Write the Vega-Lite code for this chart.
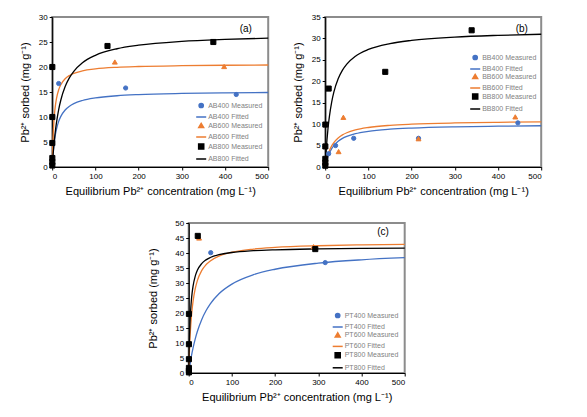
{
  "$schema": "https://vega.github.io/schema/vega-lite/v6.json",
  "padding": {"left": 18, "top": 12, "right": 4, "bottom": 4},
  "config": {
    "font": "Liberation Sans",
    "view": {"stroke": "#8c8c8c", "strokeWidth": 2},
    "axis": {"grid": false, "domainColor": "#000000", "domainWidth": 1.2, "tickColor": "#000000", "tickSize": 3, "labelFont": "Liberation Sans", "labelFontSize": 8, "labelColor": "#000000", "titleFont": "Liberation Sans", "titleFontSize": 11, "titleFontWeight": "normal", "titleColor": "#000000", "labelPadding": 2},
    "axisX": {"titlePadding": 5},
    "axisY": {"titlePadding": 8},
    "legend": {"labelFont": "Liberation Sans", "labelFontSize": 7, "labelColor": "#7f7f7f", "rowPadding": 0, "padding": 0, "labelOffset": 1, "symbolOpacity": 1}
  },
  "datasets": {
    "a_fit": [
      {"series": "AB400 Fitted", "C": 0, "q": 0}, {"series": "AB400 Fitted", "C": 1, "q": 1.38}, {"series": "AB400 Fitted", "C": 2, "q": 2.53}, {"series": "AB400 Fitted", "C": 4, "q": 4.34}, {"series": "AB400 Fitted", "C": 6, "q": 5.7}, {"series": "AB400 Fitted", "C": 8, "q": 6.76}, {"series": "AB400 Fitted", "C": 10, "q": 7.6}, {"series": "AB400 Fitted", "C": 15, "q": 9.12}, {"series": "AB400 Fitted", "C": 20, "q": 10.13}, {"series": "AB400 Fitted", "C": 30, "q": 11.4}, {"series": "AB400 Fitted", "C": 40, "q": 12.16}, {"series": "AB400 Fitted", "C": 50, "q": 12.67}, {"series": "AB400 Fitted", "C": 70, "q": 13.3}, {"series": "AB400 Fitted", "C": 100, "q": 13.82}, {"series": "AB400 Fitted", "C": 150, "q": 14.25}, {"series": "AB400 Fitted", "C": 200, "q": 14.48}, {"series": "AB400 Fitted", "C": 300, "q": 14.71}, {"series": "AB400 Fitted", "C": 400, "q": 14.83}, {"series": "AB400 Fitted", "C": 500, "q": 14.9},
      {"series": "AB600 Fitted", "C": 0, "q": 0}, {"series": "AB600 Fitted", "C": 1, "q": 3.43}, {"series": "AB600 Fitted", "C": 2, "q": 5.89}, {"series": "AB600 Fitted", "C": 4, "q": 9.16}, {"series": "AB600 Fitted", "C": 6, "q": 11.24}, {"series": "AB600 Fitted", "C": 8, "q": 12.68}, {"series": "AB600 Fitted", "C": 10, "q": 13.73}, {"series": "AB600 Fitted", "C": 15, "q": 15.45}, {"series": "AB600 Fitted", "C": 20, "q": 16.48}, {"series": "AB600 Fitted", "C": 30, "q": 17.66}, {"series": "AB600 Fitted", "C": 40, "q": 18.31}, {"series": "AB600 Fitted", "C": 50, "q": 18.73}, {"series": "AB600 Fitted", "C": 70, "q": 19.23}, {"series": "AB600 Fitted", "C": 100, "q": 19.62}, {"series": "AB600 Fitted", "C": 150, "q": 19.94}, {"series": "AB600 Fitted", "C": 200, "q": 20.1}, {"series": "AB600 Fitted", "C": 300, "q": 20.26}, {"series": "AB600 Fitted", "C": 400, "q": 20.35}, {"series": "AB600 Fitted", "C": 500, "q": 20.4},
      {"series": "AB800 Fitted", "C": 0, "q": 0}, {"series": "AB800 Fitted", "C": 1, "q": 1.28}, {"series": "AB800 Fitted", "C": 2, "q": 2.44}, {"series": "AB800 Fitted", "C": 4, "q": 4.47}, {"series": "AB800 Fitted", "C": 6, "q": 6.18}, {"series": "AB800 Fitted", "C": 8, "q": 7.66}, {"series": "AB800 Fitted", "C": 10, "q": 8.93}, {"series": "AB800 Fitted", "C": 15, "q": 11.49}, {"series": "AB800 Fitted", "C": 20, "q": 13.4}, {"series": "AB800 Fitted", "C": 30, "q": 16.08}, {"series": "AB800 Fitted", "C": 40, "q": 17.87}, {"series": "AB800 Fitted", "C": 50, "q": 19.14}, {"series": "AB800 Fitted", "C": 70, "q": 20.84}, {"series": "AB800 Fitted", "C": 100, "q": 22.33}, {"series": "AB800 Fitted", "C": 150, "q": 23.65}, {"series": "AB800 Fitted", "C": 200, "q": 24.36}, {"series": "AB800 Fitted", "C": 300, "q": 25.13}, {"series": "AB800 Fitted", "C": 400, "q": 25.52}, {"series": "AB800 Fitted", "C": 500, "q": 25.77}
    ],
    "a_pts": [
      {"series": "AB400 Measured", "C": 15, "q": 16.7}, {"series": "AB400 Measured", "C": 170, "q": 15.8}, {"series": "AB400 Measured", "C": 426, "q": 14.5},
      {"series": "AB600 Measured", "C": 145, "q": 21.0}, {"series": "AB600 Measured", "C": 398, "q": 20.1},
      {"series": "AB800 Measured", "C": 0.3, "q": 20.0}, {"series": "AB800 Measured", "C": 0.3, "q": 10.0}, {"series": "AB800 Measured", "C": 0.3, "q": 4.8}, {"series": "AB800 Measured", "C": 0.3, "q": 1.8}, {"series": "AB800 Measured", "C": 0.3, "q": 1.0}, {"series": "AB800 Measured", "C": 0.3, "q": 0.3}, {"series": "AB800 Measured", "C": 128, "q": 24.2}, {"series": "AB800 Measured", "C": 373, "q": 25.0}
    ],
    "b_fit": [
      {"series": "BB400 Fitted", "C": 0, "q": 0}, {"series": "BB400 Fitted", "C": 1, "q": 0.48}, {"series": "BB400 Fitted", "C": 2, "q": 0.91}, {"series": "BB400 Fitted", "C": 4, "q": 1.67}, {"series": "BB400 Fitted", "C": 6, "q": 2.31}, {"series": "BB400 Fitted", "C": 8, "q": 2.86}, {"series": "BB400 Fitted", "C": 10, "q": 3.33}, {"series": "BB400 Fitted", "C": 15, "q": 4.29}, {"series": "BB400 Fitted", "C": 20, "q": 5.0}, {"series": "BB400 Fitted", "C": 30, "q": 6.0}, {"series": "BB400 Fitted", "C": 40, "q": 6.67}, {"series": "BB400 Fitted", "C": 50, "q": 7.14}, {"series": "BB400 Fitted", "C": 70, "q": 7.78}, {"series": "BB400 Fitted", "C": 100, "q": 8.33}, {"series": "BB400 Fitted", "C": 150, "q": 8.82}, {"series": "BB400 Fitted", "C": 200, "q": 9.09}, {"series": "BB400 Fitted", "C": 300, "q": 9.38}, {"series": "BB400 Fitted", "C": 400, "q": 9.52}, {"series": "BB400 Fitted", "C": 500, "q": 9.62},
      {"series": "BB600 Fitted", "C": 0, "q": 0}, {"series": "BB600 Fitted", "C": 1, "q": 0.57}, {"series": "BB600 Fitted", "C": 2, "q": 1.08}, {"series": "BB600 Fitted", "C": 4, "q": 1.97}, {"series": "BB600 Fitted", "C": 6, "q": 2.7}, {"series": "BB600 Fitted", "C": 8, "q": 3.33}, {"series": "BB600 Fitted", "C": 10, "q": 3.87}, {"series": "BB600 Fitted", "C": 15, "q": 4.93}, {"series": "BB600 Fitted", "C": 20, "q": 5.71}, {"series": "BB600 Fitted", "C": 30, "q": 6.79}, {"series": "BB600 Fitted", "C": 40, "q": 7.49}, {"series": "BB600 Fitted", "C": 50, "q": 7.99}, {"series": "BB600 Fitted", "C": 70, "q": 8.65}, {"series": "BB600 Fitted", "C": 100, "q": 9.22}, {"series": "BB600 Fitted", "C": 150, "q": 9.72}, {"series": "BB600 Fitted", "C": 200, "q": 9.99}, {"series": "BB600 Fitted", "C": 300, "q": 10.28}, {"series": "BB600 Fitted", "C": 400, "q": 10.43}, {"series": "BB600 Fitted", "C": 500, "q": 10.52},
      {"series": "BB800 Fitted", "C": 0, "q": 0}, {"series": "BB800 Fitted", "C": 1, "q": 1.81}, {"series": "BB800 Fitted", "C": 2, "q": 3.43}, {"series": "BB800 Fitted", "C": 4, "q": 6.19}, {"series": "BB800 Fitted", "C": 6, "q": 8.47}, {"series": "BB800 Fitted", "C": 8, "q": 10.38}, {"series": "BB800 Fitted", "C": 10, "q": 12.0}, {"series": "BB800 Fitted", "C": 15, "q": 15.16}, {"series": "BB800 Fitted", "C": 20, "q": 17.45}, {"series": "BB800 Fitted", "C": 30, "q": 20.57}, {"series": "BB800 Fitted", "C": 40, "q": 22.59}, {"series": "BB800 Fitted", "C": 50, "q": 24.0}, {"series": "BB800 Fitted", "C": 70, "q": 25.85}, {"series": "BB800 Fitted", "C": 100, "q": 27.43}, {"series": "BB800 Fitted", "C": 150, "q": 28.8}, {"series": "BB800 Fitted", "C": 200, "q": 29.54}, {"series": "BB800 Fitted", "C": 300, "q": 30.32}, {"series": "BB800 Fitted", "C": 400, "q": 30.72}, {"series": "BB800 Fitted", "C": 500, "q": 30.97}
    ],
    "b_pts": [
      {"series": "BB400 Measured", "C": 8, "q": 3.1}, {"series": "BB400 Measured", "C": 24, "q": 5.0}, {"series": "BB400 Measured", "C": 66, "q": 6.7}, {"series": "BB400 Measured", "C": 216, "q": 6.7}, {"series": "BB400 Measured", "C": 446, "q": 10.3},
      {"series": "BB600 Measured", "C": 31, "q": 3.6}, {"series": "BB600 Measured", "C": 42, "q": 11.6}, {"series": "BB600 Measured", "C": 216, "q": 6.6}, {"series": "BB600 Measured", "C": 440, "q": 11.7},
      {"series": "BB800 Measured", "C": 0.3, "q": 9.9}, {"series": "BB800 Measured", "C": 0.3, "q": 4.8}, {"series": "BB800 Measured", "C": 0.3, "q": 1.9}, {"series": "BB800 Measured", "C": 0.3, "q": 1.0}, {"series": "BB800 Measured", "C": 0.3, "q": 0.3}, {"series": "BB800 Measured", "C": 8, "q": 18.3}, {"series": "BB800 Measured", "C": 139, "q": 22.2}, {"series": "BB800 Measured", "C": 339, "q": 31.9}
    ],
    "c_fit": [
      {"series": "PT400 Fitted", "C": 0, "q": 0}, {"series": "PT400 Fitted", "C": 1, "q": 1.01}, {"series": "PT400 Fitted", "C": 2, "q": 1.98}, {"series": "PT400 Fitted", "C": 4, "q": 3.77}, {"series": "PT400 Fitted", "C": 6, "q": 5.41}, {"series": "PT400 Fitted", "C": 8, "q": 6.92}, {"series": "PT400 Fitted", "C": 10, "q": 8.3}, {"series": "PT400 Fitted", "C": 15, "q": 11.32}, {"series": "PT400 Fitted", "C": 20, "q": 13.83}, {"series": "PT400 Fitted", "C": 30, "q": 17.79}, {"series": "PT400 Fitted", "C": 40, "q": 20.75}, {"series": "PT400 Fitted", "C": 50, "q": 23.06}, {"series": "PT400 Fitted", "C": 70, "q": 26.41}, {"series": "PT400 Fitted", "C": 100, "q": 29.64}, {"series": "PT400 Fitted", "C": 150, "q": 32.76}, {"series": "PT400 Fitted", "C": 200, "q": 34.58}, {"series": "PT400 Fitted", "C": 300, "q": 36.62}, {"series": "PT400 Fitted", "C": 400, "q": 37.73}, {"series": "PT400 Fitted", "C": 500, "q": 38.43},
      {"series": "PT600 Fitted", "C": 0, "q": 0}, {"series": "PT600 Fitted", "C": 1, "q": 4.67}, {"series": "PT600 Fitted", "C": 2, "q": 8.44}, {"series": "PT600 Fitted", "C": 4, "q": 14.14}, {"series": "PT600 Fitted", "C": 6, "q": 18.25}, {"series": "PT600 Fitted", "C": 8, "q": 21.35}, {"series": "PT600 Fitted", "C": 10, "q": 23.78}, {"series": "PT600 Fitted", "C": 15, "q": 28.03}, {"series": "PT600 Fitted", "C": 20, "q": 30.78}, {"series": "PT600 Fitted", "C": 30, "q": 34.12}, {"series": "PT600 Fitted", "C": 40, "q": 36.08}, {"series": "PT600 Fitted", "C": 50, "q": 37.37}, {"series": "PT600 Fitted", "C": 70, "q": 38.96}, {"series": "PT600 Fitted", "C": 100, "q": 40.25}, {"series": "PT600 Fitted", "C": 150, "q": 41.31}, {"series": "PT600 Fitted", "C": 200, "q": 41.86}, {"series": "PT600 Fitted", "C": 300, "q": 42.42}, {"series": "PT600 Fitted", "C": 400, "q": 42.71}, {"series": "PT600 Fitted", "C": 500, "q": 42.89},
      {"series": "PT800 Fitted", "C": 0, "q": 0}, {"series": "PT800 Fitted", "C": 1, "q": 7.57}, {"series": "PT800 Fitted", "C": 2, "q": 12.83}, {"series": "PT800 Fitted", "C": 4, "q": 19.66}, {"series": "PT800 Fitted", "C": 6, "q": 23.9}, {"series": "PT800 Fitted", "C": 8, "q": 26.78}, {"series": "PT800 Fitted", "C": 10, "q": 28.88}, {"series": "PT800 Fitted", "C": 15, "q": 32.23}, {"series": "PT800 Fitted", "C": 20, "q": 34.22}, {"series": "PT800 Fitted", "C": 30, "q": 36.47}, {"series": "PT800 Fitted", "C": 40, "q": 37.71}, {"series": "PT800 Fitted", "C": 50, "q": 38.5}, {"series": "PT800 Fitted", "C": 70, "q": 39.44}, {"series": "PT800 Fitted", "C": 100, "q": 40.17}, {"series": "PT800 Fitted", "C": 150, "q": 40.76}, {"series": "PT800 Fitted", "C": 200, "q": 41.07}, {"series": "PT800 Fitted", "C": 300, "q": 41.37}, {"series": "PT800 Fitted", "C": 400, "q": 41.53}, {"series": "PT800 Fitted", "C": 500, "q": 41.62}
    ],
    "c_pts": [
      {"series": "PT400 Measured", "C": 51, "q": 40.1}, {"series": "PT400 Measured", "C": 316, "q": 36.8},
      {"series": "PT600 Measured", "C": 24, "q": 45.0}, {"series": "PT600 Measured", "C": 289, "q": 42.1},
      {"series": "PT800 Measured", "C": 0.5, "q": 19.7}, {"series": "PT800 Measured", "C": 0.5, "q": 9.6}, {"series": "PT800 Measured", "C": 0.5, "q": 4.6}, {"series": "PT800 Measured", "C": 0.5, "q": 1.7}, {"series": "PT800 Measured", "C": 0.5, "q": 0.8}, {"series": "PT800 Measured", "C": 0.5, "q": 0.2}, {"series": "PT800 Measured", "C": 21, "q": 45.7}, {"series": "PT800 Measured", "C": 293, "q": 41.3}
    ],
    "labels": [
      {"panel": "a", "C": 448, "q": 27.6, "label": "(a)"},
      {"panel": "b", "C": 455, "q": 32.3, "label": "(b)"},
      {"panel": "c", "C": 450, "q": 47.0, "label": "(c)"}
    ]
  },
  "resolve": {"scale": {"color": "independent", "fill": "independent", "stroke": "independent", "shape": "independent", "size": "independent"}, "legend": {"color": "independent", "fill": "independent", "stroke": "independent", "shape": "independent", "size": "independent"}},
  "center": true,
  "spacing": 21,
  "vconcat": [
    {
      "spacing": 19,
      "resolve": {"scale": {"color": "independent", "fill": "independent", "stroke": "independent", "shape": "independent", "size": "independent"}, "legend": {"color": "independent", "fill": "independent", "stroke": "independent", "shape": "independent", "size": "independent"}},
      "hconcat": [
        {
          "width": 216, "height": 150,
          "encoding": {
            "x": {"field": "C", "type": "quantitative", "scale": {"domain": [0, 500], "nice": false}, "axis": {"values": [0, 100, 200, 300, 400, 500], "title": "Equilibrium Pb²⁺ concentration (mg L⁻¹)"}},
            "y": {"field": "q", "type": "quantitative", "scale": {"domain": [0, 30], "nice": false}, "axis": {"values": [0, 5, 10, 15, 20, 25, 30], "title": "Pb²⁺ sorbed (mg g⁻¹)"}}
          },
          "layer": [
            {"data": {"name": "a_fit"}, "mark": {"type": "line", "interpolate": "monotone", "strokeWidth": 1.3},
             "encoding": {"color": {"field": "series", "type": "nominal", "legend": null, "scale": {"domain": ["AB400 Fitted", "AB600 Fitted", "AB800 Fitted"], "range": ["#4472C4", "#ED7D31", "#000000"]}}}},
            {"data": {"name": "a_pts"}, "mark": {"type": "point", "filled": true, "opacity": 1, "strokeWidth": 1},
             "encoding": {
               "fill": {"field": "series", "type": "nominal", "scale": {"domain": ["AB400 Measured", "AB400 Fitted", "AB600 Measured", "AB600 Fitted", "AB800 Measured", "AB800 Fitted"], "range": ["#4472C4", "#4472C4", "#ED7D31", "#ED7D31", "#000000", "#000000"]}, "legend": {"title": null, "orient": "none", "legendX": 143, "legendY": 85, "rowPadding": 0}},
               "stroke": {"field": "series", "type": "nominal", "scale": {"domain": ["AB400 Measured", "AB400 Fitted", "AB600 Measured", "AB600 Fitted", "AB800 Measured", "AB800 Fitted"], "range": ["#4472C4", "#4472C4", "#ED7D31", "#ED7D31", "#000000", "#000000"]}, "legend": {"title": null, "orient": "none", "legendX": 143, "legendY": 85, "rowPadding": 0}},
               "shape": {"field": "series", "type": "nominal", "scale": {"domain": ["AB400 Measured", "AB400 Fitted", "AB600 Measured", "AB600 Fitted", "AB800 Measured", "AB800 Fitted"], "range": ["circle", "stroke", "triangle-up", "stroke", "square", "stroke"]}, "legend": {"title": null, "orient": "none", "legendX": 143, "legendY": 85, "rowPadding": 0}},
               "size": {"field": "series", "type": "nominal", "scale": {"type": "ordinal", "domain": ["AB400 Measured", "AB400 Fitted", "AB600 Measured", "AB600 Fitted", "AB800 Measured", "AB800 Fitted"], "range": [18, 100, 24, 100, 26, 100]}, "legend": {"title": null, "orient": "none", "legendX": 143, "legendY": 85, "rowPadding": 0}}
             }},
            {"data": {"name": "labels"}, "transform": [{"filter": "datum.panel == 'a'"}], "mark": {"type": "text", "fontSize": 10, "font": "Liberation Sans", "color": "#000000"}, "encoding": {"text": {"field": "label"}}}
          ]
        },
        {
          "width": 216, "height": 150,
          "encoding": {
            "x": {"field": "C", "type": "quantitative", "scale": {"domain": [0, 500], "nice": false}, "axis": {"values": [0, 100, 200, 300, 400, 500], "title": "Equilibrium Pb²⁺ concentration (mg L⁻¹)"}},
            "y": {"field": "q", "type": "quantitative", "scale": {"domain": [0, 35], "nice": false}, "axis": {"values": [0, 5, 10, 15, 20, 25, 30, 35], "title": "Pb²⁺ sorbed (mg g⁻¹)"}}
          },
          "layer": [
            {"data": {"name": "b_fit"}, "mark": {"type": "line", "interpolate": "monotone", "strokeWidth": 1.3},
             "encoding": {"color": {"field": "series", "type": "nominal", "legend": null, "scale": {"domain": ["BB400 Fitted", "BB600 Fitted", "BB800 Fitted"], "range": ["#4472C4", "#ED7D31", "#000000"]}}}},
            {"data": {"name": "b_pts"}, "mark": {"type": "point", "filled": true, "opacity": 1, "strokeWidth": 1},
             "encoding": {
               "fill": {"field": "series", "type": "nominal", "scale": {"domain": ["BB400 Measured", "BB400 Fitted", "BB600 Measured", "BB600 Fitted", "BB800 Measured", "BB800 Fitted"], "range": ["#4472C4", "#4472C4", "#ED7D31", "#ED7D31", "#000000", "#000000"]}, "legend": {"title": null, "orient": "none", "legendX": 144, "legendY": 37, "rowPadding": -1}},
               "stroke": {"field": "series", "type": "nominal", "scale": {"domain": ["BB400 Measured", "BB400 Fitted", "BB600 Measured", "BB600 Fitted", "BB800 Measured", "BB800 Fitted"], "range": ["#4472C4", "#4472C4", "#ED7D31", "#ED7D31", "#000000", "#000000"]}, "legend": {"title": null, "orient": "none", "legendX": 144, "legendY": 37, "rowPadding": -1}},
               "shape": {"field": "series", "type": "nominal", "scale": {"domain": ["BB400 Measured", "BB400 Fitted", "BB600 Measured", "BB600 Fitted", "BB800 Measured", "BB800 Fitted"], "range": ["circle", "stroke", "triangle-up", "stroke", "square", "stroke"]}, "legend": {"title": null, "orient": "none", "legendX": 144, "legendY": 37, "rowPadding": -1}},
               "size": {"field": "series", "type": "nominal", "scale": {"type": "ordinal", "domain": ["BB400 Measured", "BB400 Fitted", "BB600 Measured", "BB600 Fitted", "BB800 Measured", "BB800 Fitted"], "range": [18, 100, 24, 100, 26, 100]}, "legend": {"title": null, "orient": "none", "legendX": 144, "legendY": 37, "rowPadding": -1}}
             }},
            {"data": {"name": "labels"}, "transform": [{"filter": "datum.panel == 'b'"}], "mark": {"type": "text", "fontSize": 10, "font": "Liberation Sans", "color": "#000000"}, "encoding": {"text": {"field": "label"}}}
          ]
        }
      ]
    },
    {
      "width": 216, "height": 150,
      "encoding": {
        "x": {"field": "C", "type": "quantitative", "scale": {"domain": [0, 500], "nice": false}, "axis": {"values": [0, 100, 200, 300, 400, 500], "title": "Equilibrium Pb²⁺ concentration (mg L⁻¹)"}},
        "y": {"field": "q", "type": "quantitative", "scale": {"domain": [0, 50], "nice": false}, "axis": {"values": [0, 5, 10, 15, 20, 25, 30, 35, 40, 45, 50], "title": "Pb²⁺ sorbed (mg g⁻¹)", "titlePadding": 16}}
      },
      "layer": [
        {"data": {"name": "c_fit"}, "mark": {"type": "line", "interpolate": "monotone", "strokeWidth": 1.3},
         "encoding": {"color": {"field": "series", "type": "nominal", "legend": null, "scale": {"domain": ["PT400 Fitted", "PT600 Fitted", "PT800 Fitted"], "range": ["#4472C4", "#ED7D31", "#000000"]}}}},
        {"data": {"name": "c_pts"}, "mark": {"type": "point", "filled": true, "opacity": 1, "strokeWidth": 1},
         "encoding": {
           "fill": {"field": "series", "type": "nominal", "scale": {"domain": ["PT400 Measured", "PT400 Fitted", "PT600 Measured", "PT600 Fitted", "PT800 Measured", "PT800 Fitted"], "range": ["#4472C4", "#4472C4", "#ED7D31", "#ED7D31", "#000000", "#000000"]}, "legend": {"title": null, "orient": "none", "legendX": 143, "legendY": 89, "rowPadding": -0.6}},
           "stroke": {"field": "series", "type": "nominal", "scale": {"domain": ["PT400 Measured", "PT400 Fitted", "PT600 Measured", "PT600 Fitted", "PT800 Measured", "PT800 Fitted"], "range": ["#4472C4", "#4472C4", "#ED7D31", "#ED7D31", "#000000", "#000000"]}, "legend": {"title": null, "orient": "none", "legendX": 143, "legendY": 89, "rowPadding": -0.6}},
           "shape": {"field": "series", "type": "nominal", "scale": {"domain": ["PT400 Measured", "PT400 Fitted", "PT600 Measured", "PT600 Fitted", "PT800 Measured", "PT800 Fitted"], "range": ["circle", "stroke", "triangle-up", "stroke", "square", "stroke"]}, "legend": {"title": null, "orient": "none", "legendX": 143, "legendY": 89, "rowPadding": -0.6}},
           "size": {"field": "series", "type": "nominal", "scale": {"type": "ordinal", "domain": ["PT400 Measured", "PT400 Fitted", "PT600 Measured", "PT600 Fitted", "PT800 Measured", "PT800 Fitted"], "range": [18, 100, 24, 100, 26, 100]}, "legend": {"title": null, "orient": "none", "legendX": 143, "legendY": 89, "rowPadding": -0.6}}
         }},
        {"data": {"name": "labels"}, "transform": [{"filter": "datum.panel == 'c'"}], "mark": {"type": "text", "fontSize": 10, "font": "Liberation Sans", "color": "#000000"}, "encoding": {"text": {"field": "label"}}}
      ]
    }
  ]
}
